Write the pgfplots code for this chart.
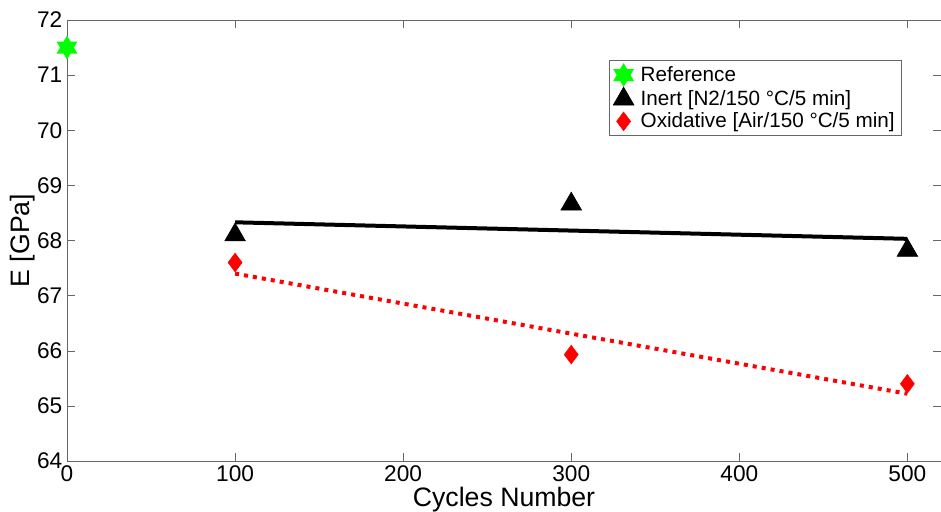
\documentclass[border=0pt]{standalone}
\usepackage{fontspec}
\setmainfont{Liberation Sans}
\usepackage{pgfplots}
\pgfplotsset{compat=1.18}
\usetikzlibrary{calc}

% filled six-pointed star (two overlapping triangles)
\pgfdeclareplotmark{hexstar}{%
  \pgfpathmoveto{\pgfpointpolar{90}{\pgfplotmarksize}}%
  \pgfpathlineto{\pgfpointpolar{210}{\pgfplotmarksize}}%
  \pgfpathlineto{\pgfpointpolar{330}{\pgfplotmarksize}}%
  \pgfpathclose
  \pgfpathmoveto{\pgfpointpolar{270}{\pgfplotmarksize}}%
  \pgfpathlineto{\pgfpointpolar{30}{\pgfplotmarksize}}%
  \pgfpathlineto{\pgfpointpolar{150}{\pgfplotmarksize}}%
  \pgfpathclose
  \pgfusepathqfill}

\definecolor{cgreen}{RGB}{0,255,0}
\definecolor{cred}{RGB}{255,0,0}

\begin{document}
\begin{tikzpicture}
  \begin{axis}[
    name=ax,
    scale only axis,
    width=655.5pt,
    height=330.75pt,
    xmin=0, xmax=520,
    ymin=64, ymax=72,
    xtick={0,100,...,500},
    ytick={64,65,...,72},
    tick align=inside,
    major tick length=6pt,
    axis line style={draw=black!60},
    tick style={draw=black!60},
    /pgf/number format/assume math mode=true,
    tick label style={font=\fontsize{17}{19}\selectfont},
    label style={font=\fontsize{20}{22}\selectfont},
    xlabel={Cycles Number},
    ylabel={E [GPa]},
    xlabel style={yshift=3pt},
    ylabel style={yshift=-5pt},
    clip=false,
    legend style={
      at={(0.955,0.909)}, anchor=north east,
      draw=black!60, fill=white,
      font=\fontsize{15.5}{17}\selectfont,
      row sep=0pt,
      inner xsep=3pt, inner ysep=2pt,
      /tikz/every odd column/.append style={column sep=3pt}
    },
    legend cell align=left,
  ]
    \addplot[only marks, mark=hexstar, mark size=9pt, color=cgreen]
      coordinates {(0,71.5)};
    \addlegendentry{Reference}

    \addplot[only marks, mark=triangle*, mark size=9pt, color=black]
      coordinates {(100,68.10) (300,68.66) (500,67.82)};
    \addlegendentry{Inert [N2/150 °C/5 min]}

    \addplot[only marks, mark=diamond*, mark size=7pt, color=cred]
      coordinates {(100,67.60) (300,65.93) (500,65.40)};
    \addlegendentry{Oxidative [Air/150 °C/5 min]}

    % linear fits
    \addplot[forget plot, black, line width=3pt]
      coordinates {(100,68.33) (500,68.03)};
    \addplot[forget plot, cred, line width=3pt, dash pattern=on 3pt off 3.8pt]
      coordinates {(100,67.40) (500,65.22)};
  \end{axis}
  \pgfresetboundingbox
  \path ($(ax.south west)+(-50.25pt,-38.25pt)$) rectangle ($(ax.north east)+(0pt,15pt)$);
\end{tikzpicture}
\end{document}
